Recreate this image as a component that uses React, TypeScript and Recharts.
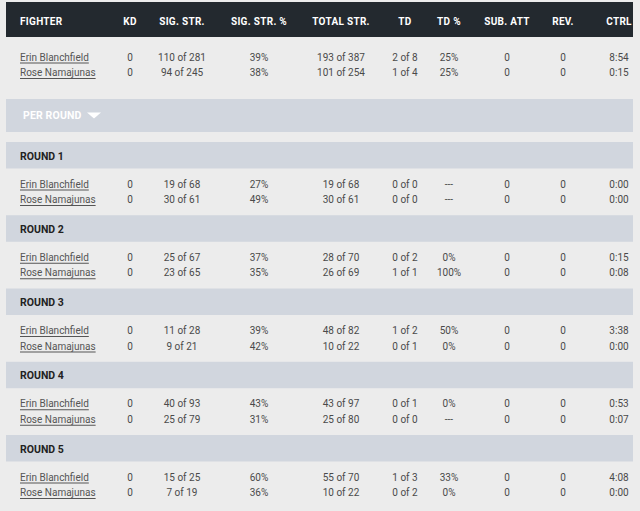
import React from 'react';
import { ComposedChart, XAxis, YAxis, Scatter, ReferenceArea } from 'recharts';

// ---------- data ----------
const columns = ['FIGHTER', 'KD', 'SIG. STR.', 'SIG. STR. %', 'TOTAL STR.', 'TD', 'TD %', 'SUB. ATT', 'REV.', 'CTRL'];
const fighters = ['Erin Blanchfield', 'Rose Namajunas'];
const perRoundLabel = 'PER ROUND';
const roundLabels = ['ROUND 1', 'ROUND 2', 'ROUND 3', 'ROUND 4', 'ROUND 5'];

const totals = [
  ['0', '110 of 281', '39%', '193 of 387', '2 of 8', '25%', '0', '0', '8:54'],
  ['0', '94 of 245', '38%', '101 of 254', '1 of 4', '25%', '0', '0', '0:15'],
];
const round1 = [
  ['0', '19 of 68', '27%', '19 of 68', '0 of 0', '---', '0', '0', '0:00'],
  ['0', '30 of 61', '49%', '30 of 61', '0 of 0', '---', '0', '0', '0:00'],
];
const round2 = [
  ['0', '25 of 67', '37%', '28 of 70', '0 of 2', '0%', '0', '0', '0:15'],
  ['0', '23 of 65', '35%', '26 of 69', '1 of 1', '100%', '0', '0', '0:08'],
];
const round3 = [
  ['0', '11 of 28', '39%', '48 of 82', '1 of 2', '50%', '0', '0', '3:38'],
  ['0', '9 of 21', '42%', '10 of 22', '0 of 1', '0%', '0', '0', '0:00'],
];
const round4 = [
  ['0', '40 of 93', '43%', '43 of 97', '0 of 1', '0%', '0', '0', '0:53'],
  ['0', '25 of 79', '31%', '25 of 80', '0 of 0', '---', '0', '0', '0:07'],
];
const round5 = [
  ['0', '15 of 25', '60%', '55 of 70', '1 of 3', '33%', '0', '0', '4:08'],
  ['0', '7 of 19', '36%', '10 of 22', '0 of 2', '0%', '0', '0', '0:00'],
];
const rounds = [round1, round2, round3, round4, round5];

// ---------- layout ----------
const W = 640;
const H = 511;
const colX = [20, 130, 182, 259, 341, 405, 449, 507, 563, 619];
const TABLE_L = 6;
const TABLE_R = 633;
const HEADER_TOP = 2;
const HEADER_BOTTOM = 37;
const HEADER_MID = 21;
const TOTAL_ROW1 = 57;
const ROW_GAP = 15.5;
const PER_TOP = 99;
const PER_BOTTOM = 132;
const PER_X = 23;
const ROUND_TOP = 142;
const ROUND_STEP = 73.25;
const ROUND_H = 26.5;
const ROUND_LABEL_OFF = 14;
const ROUND_ROW_OFF = 42;

const FONT = 'Roboto, "Noto Sans", sans-serif';

type Cell = { x: number; y: number; text: string };

const headerCells: Cell[] = columns.map((c, i) => ({ x: colX[i], y: HEADER_MID, text: c }));
const nameCells: Cell[] = [];
const valueCells: Cell[] = [];
const roundLabelCells: Cell[] = [];
const perRoundCells: Cell[] = [{ x: PER_X, y: (PER_TOP + PER_BOTTOM) / 2, text: perRoundLabel }];

const addRows = (rows: string[][], y0: number) => {
  rows.forEach((r, fi) => {
    const y = y0 + fi * ROW_GAP;
    nameCells.push({ x: colX[0], y, text: fighters[fi] });
    r.forEach((v, ci) => valueCells.push({ x: colX[ci + 1], y, text: v }));
  });
};
addRows(totals, TOTAL_ROW1);
rounds.forEach((r, k) => {
  const top = ROUND_TOP + k * ROUND_STEP;
  roundLabelCells.push({ x: colX[0], y: top + ROUND_LABEL_OFF, text: roundLabels[k] });
  addRows(r, top + ROUND_ROW_OFF);
});

const HeaderShape = (p: any) => (
  <text
    x={p.cx}
    y={p.cy}
    textAnchor={p.payload.text === 'FIGHTER' ? 'start' : 'middle'}
    dominantBaseline="central"
    fill="#ffffff"
    fontWeight={700}
    fontSize={10}
    letterSpacing={0.3}
    fontFamily={FONT}
  >
    {p.payload.text}
  </text>
);

const NameShape = (p: any) => (
  <text
    x={p.cx}
    y={p.cy}
    textAnchor="start"
    dominantBaseline="central"
    fill="#555"
    fontSize={10}
    fontFamily={FONT}
    textDecoration="underline"
  >
    {p.payload.text}
  </text>
);

const ValueShape = (p: any) => (
  <text
    x={p.cx}
    y={p.cy}
    textAnchor="middle"
    dominantBaseline="central"
    fill="#4a4a4a"
    fontSize={10}
    fontFamily={FONT}
  >
    {p.payload.text}
  </text>
);

const RoundShape = (p: any) => (
  <text
    x={p.cx}
    y={p.cy}
    textAnchor="start"
    dominantBaseline="central"
    fill="#222"
    fontWeight={700}
    fontSize={10.5}
    fontFamily={FONT}
  >
    {p.payload.text}
  </text>
);

const PerRoundShape = (p: any) => (
  <g>
    <text
      x={p.cx}
      y={p.cy}
      textAnchor="start"
      dominantBaseline="central"
      fill="#ffffff"
      fontWeight={700}
      fontSize={10.5}
      letterSpacing={0.15}
      fontFamily={FONT}
    >
      {p.payload.text}
    </text>
    <path
      d={`M${p.cx + 64},${p.cy - 3} L${p.cx + 78},${p.cy - 3} L${p.cx + 71},${p.cy + 3} Z`}
      fill="#ffffff"
    />
  </g>
);

export default function App() {
  return (
    <div style={{ position: 'absolute', left: 0, top: 0, width: W, height: H, background: '#ececec' }}>
      <ComposedChart width={W} height={H} margin={{ top: 0, right: 0, bottom: 0, left: 0 }}>
        <XAxis type="number" dataKey="x" domain={[0, W]} hide allowDataOverflow />
        <YAxis type="number" dataKey="y" domain={[0, H]} reversed hide allowDataOverflow />
        <ReferenceArea x1={TABLE_L} x2={TABLE_R} y1={HEADER_TOP} y2={HEADER_BOTTOM} fill="#23292f" fillOpacity={1} stroke="none" />
        <ReferenceArea x1={TABLE_L} x2={TABLE_R} y1={PER_TOP} y2={PER_BOTTOM} fill="#d1d6de" fillOpacity={1} stroke="none" />
        {roundLabels.map((_, k) => (
          <ReferenceArea
            key={k}
            x1={TABLE_L}
            x2={TABLE_R}
            y1={ROUND_TOP + k * ROUND_STEP}
            y2={ROUND_TOP + k * ROUND_STEP + ROUND_H}
            fill="#d1d6de"
            fillOpacity={1}
            stroke="none"
          />
        ))}
        <Scatter data={headerCells} shape={HeaderShape} isAnimationActive={false} />
        <Scatter data={perRoundCells} shape={PerRoundShape} isAnimationActive={false} />
        <Scatter data={roundLabelCells} shape={RoundShape} isAnimationActive={false} />
        <Scatter data={nameCells} shape={NameShape} isAnimationActive={false} />
        <Scatter data={valueCells} shape={ValueShape} isAnimationActive={false} />
      </ComposedChart>
    </div>
  );
}
